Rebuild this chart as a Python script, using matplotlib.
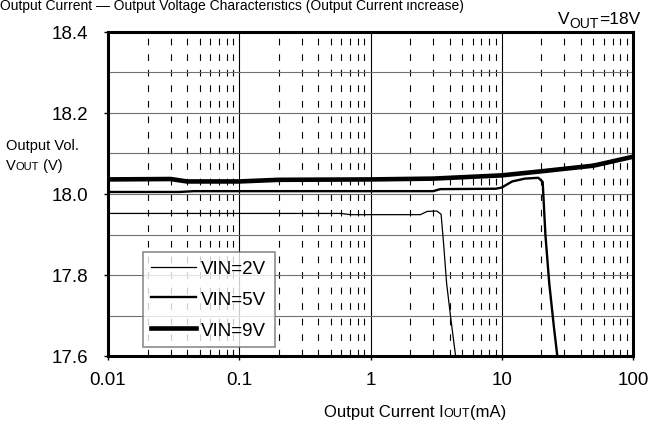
import numpy as np
import matplotlib
matplotlib.use("Agg")
import matplotlib.pyplot as plt
from matplotlib.ticker import FixedLocator, NullFormatter, LogLocator

plt.rcParams['font.family'] = ['Liberation Sans', 'DejaVu Sans']

# Output current (mA) / output voltage (V)
i_2v = [0.01, 0.1, 0.6, 0.7, 2.4, 2.7, 3.2, 3.45, 3.6, 3.8, 4.1, 4.45]
v_2v = [17.952, 17.952, 17.952, 17.949, 17.949, 17.957, 17.958, 17.95, 17.88, 17.78, 17.69, 17.6]

i_5v = [0.01, 0.035, 0.045, 3.0, 3.4, 9.0, 10.0, 12.0, 15.0, 19.0, 20.5, 21.5, 23.0, 25.0, 26.5]
v_5v = [18.005, 18.005, 18.007, 18.007, 18.012, 18.013, 18.016, 18.031, 18.038, 18.04, 18.03, 17.9, 17.78, 17.67, 17.6]

i_9v = [0.01, 0.03, 0.04, 0.1, 0.2, 1.0, 3.0, 10.0, 20.0, 50.0, 100.0]
v_9v = [18.036, 18.037, 18.031, 18.031, 18.035, 18.036, 18.038, 18.046, 18.056, 18.07, 18.092]

labels = ['VIN=2V', 'VIN=5V', 'VIN=9V']
widths = [0.9, 1.7, 3.3]

x_ticks = [0.01, 0.1, 1, 10, 100]
x_tick_labels = ['0.01', '0.1', '1', '10', '100']
y_ticks = [17.6, 17.8, 18.0, 18.2, 18.4]

fig = plt.figure(figsize=(6.55, 4.27), dpi=100)
ax = fig.add_axes([108/655, 1-357/427, 525/655, 324/427])

for i, v, lab, lw in zip([i_2v, i_5v, i_9v], [v_2v, v_5v, v_9v], labels, widths):
    ax.plot(i, v, color='black', lw=lw, label=lab, solid_joinstyle='round')

ax.set_xscale('log')
ax.set_xlim(0.01, 100)
ax.set_ylim(17.6, 18.4)
ax.set_xticks(x_ticks)
ax.set_xticklabels(x_tick_labels)
ax.xaxis.set_minor_locator(LogLocator(base=10, subs=np.arange(2, 10)))
ax.xaxis.set_minor_formatter(NullFormatter())
ax.set_yticks(y_ticks)
ax.set_yticklabels(['%.1f' % t for t in y_ticks])
ax.yaxis.set_minor_locator(FixedLocator([17.7, 17.9, 18.1, 18.3]))

ax.grid(which='major', axis='x', color='black', lw=0.8)
ax.grid(which='minor', axis='x', color='black', lw=0.8, linestyle=(0, (6, 8)))
ax.grid(which='both', axis='y', color='#707070', lw=0.8)
ax.set_axisbelow(True)

for s in ax.spines.values():
    s.set_linewidth(2.2)
ax.tick_params(which='major', length=3, width=1, direction='out', labelsize=13.5)
ax.tick_params(axis='y', pad=11)
ax.tick_params(axis='x', pad=8)
ax.tick_params(which='minor', length=0)

leg = ax.legend(loc='lower left', bbox_to_anchor=(35/525, 9/324), fontsize=13.5,
                frameon=True, fancybox=False, handlelength=2.4, handletextpad=0.25,
                borderpad=0.45, labelspacing=0.72, borderaxespad=0)
leg.get_frame().set_edgecolor('#707070')
leg.get_frame().set_linewidth(1.2)

fig.canvas.draw()
renderer = fig.canvas.get_renderer()


def rich(x, y, parts, ha='left'):
    # parts: (text, size, dy) drawn one after another, x/y in pixels from top-left
    arts = []
    cx = 0
    for txt, size, dy in parts:
        t = fig.text(0, 0, txt, fontsize=size, va='baseline', ha='left',
                     transform=None)
        w = t.get_window_extent(renderer).width
        arts.append((t, cx, dy))
        cx += w
    x0 = x - cx / 2 if ha == 'center' else (x - cx if ha == 'right' else x)
    for t, off, dy in arts:
        t.set_position((x0 + off, 427 - y + dy))


rich(0, 10, [('Output Current \u2014 Output Voltage Characteristics (Output Current increase)', 10, 0)])
rich(640, 24, [('V', 12.5, 0), ('OUT', 10, -4), ('=18V', 12.5, 0)], ha='right')
rich(6, 150, [('Output Vol.', 10.5, 0)])
rich(6, 170, [('V', 10.5, 0), ('OUT', 8, 0), (' (V)', 10.5, 0)])
rich(415, 417, [('Output Current I', 12, 0), ('OUT', 9, 0), ('(mA)', 12, 0)], ha='center')

fig.savefig('out.png', dpi=100)
